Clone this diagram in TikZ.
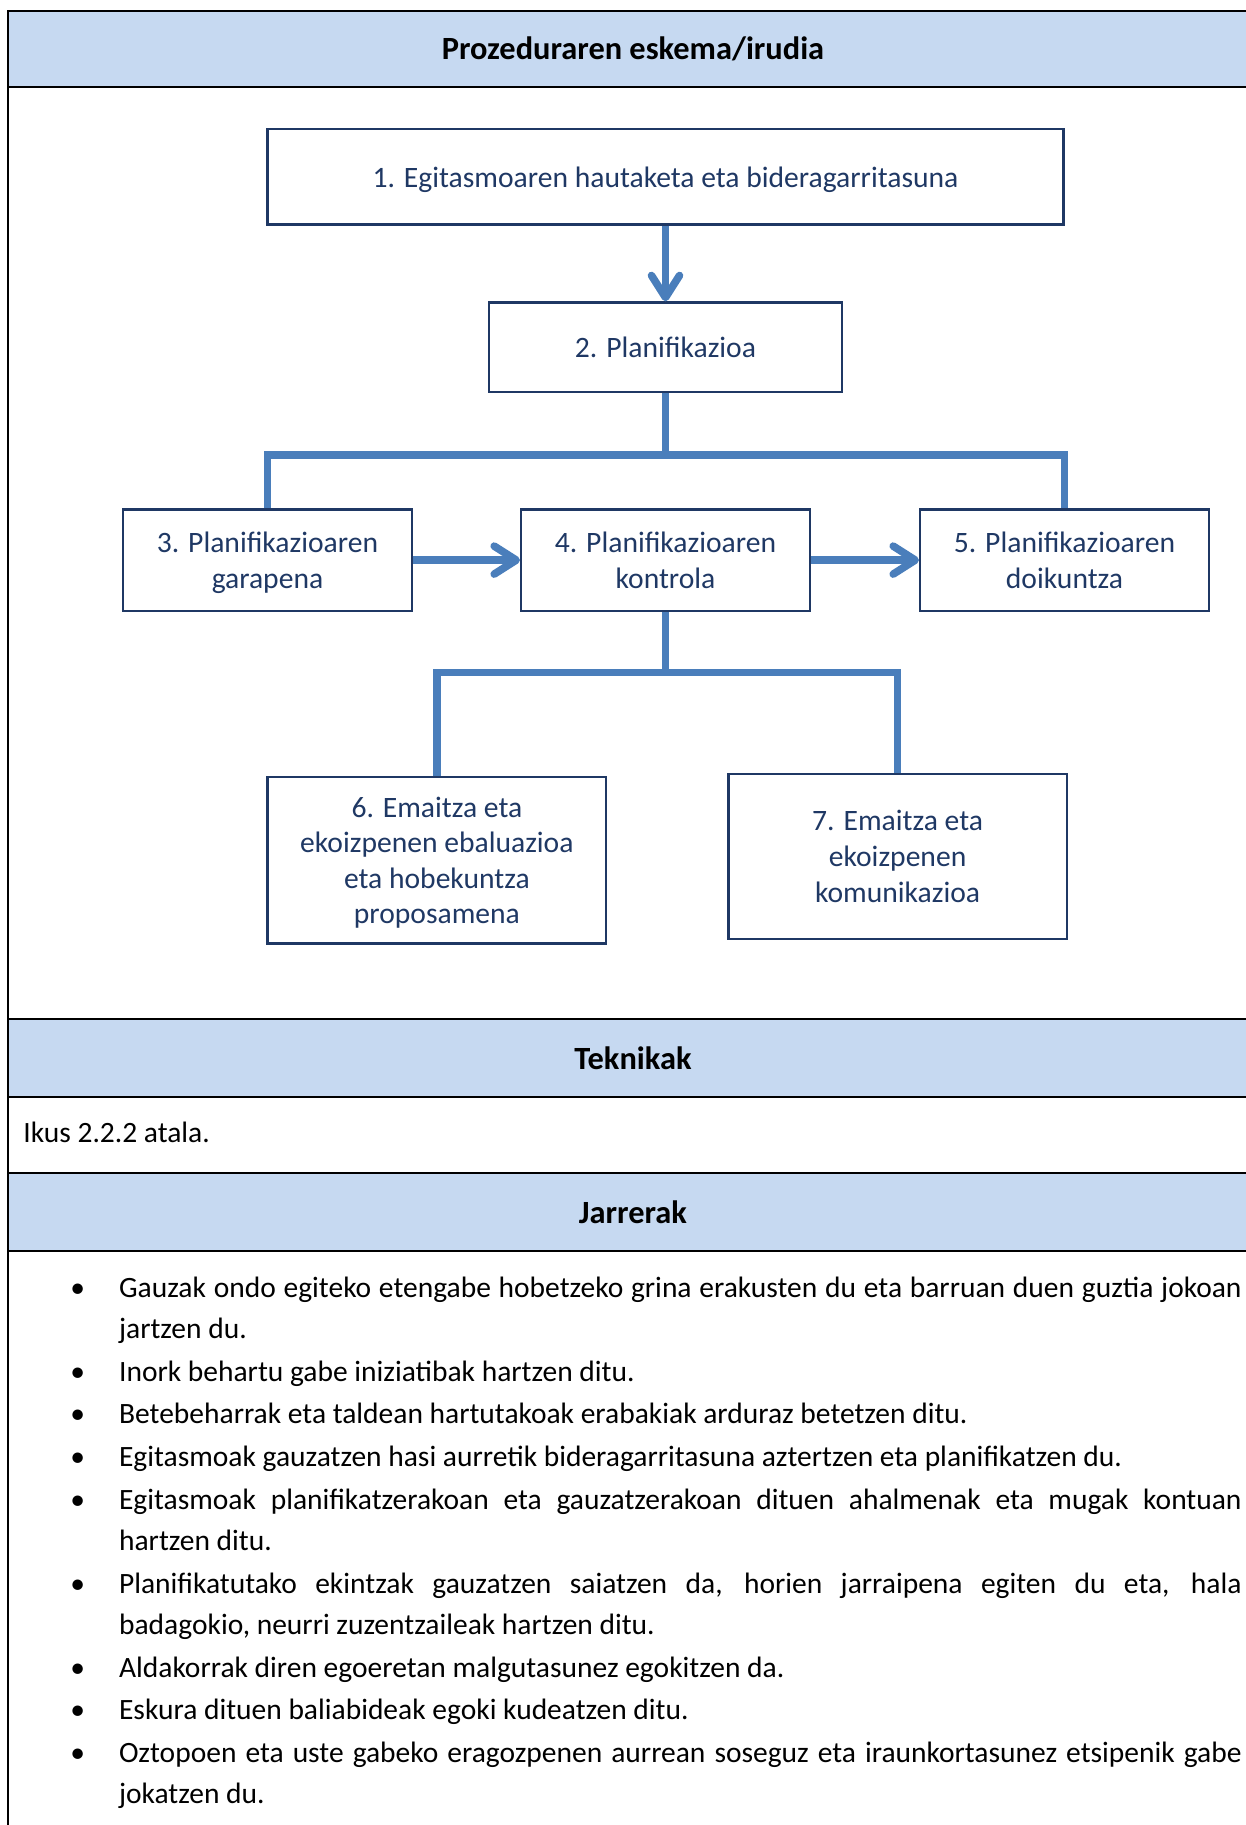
\documentclass[tikz,border=0pt]{standalone}
\usepackage{fontspec}
\setmainfont{Carlito}
\usepackage{tikz}
\usetikzlibrary{arrows.meta,positioning,calc}
\definecolor{bandblue}{HTML}{C6D9F1}
\definecolor{stagenavy}{HTML}{1F3864}
\definecolor{linkblue}{HTML}{4A7EBB}
\newcommand{\attitem}{\noindent\llap{\textbullet\hspace{17pt}}}

\begin{document}
\begin{tikzpicture}[
  x=0.5pt, y=-0.5pt,
  font=\fontsize{14.75}{20.5}\selectfont,
  stage/.style={
    rectangle,
    draw=stagenavy,
    line width=1.2pt,
    text=stagenavy,
    align=center,
    inner sep=0pt,
    text depth=0pt,
    minimum width=144.3pt,
    minimum height=50.6pt,
    font=\fontsize{14.8}{17.8}\selectfont
  },
  bandtitle/.style={font=\fontsize{16.2}{19}\selectfont\bfseries, inner sep=0pt},
  tablerule/.style={line width=1.1pt, draw=black, line join=miter},
  link/.style={line width=3.8pt, draw=linkblue},
  arrow/.style={link, -{Straight Barb[length=11pt,width=14pt,round]}}
]
\useasboundingbox (0,0) rectangle (1246,1825);

% table bands and rules
\fill[bandblue] (8,11) rectangle (1246,87);
\fill[bandblue] (8,1019) rectangle (1246,1097);
\fill[bandblue] (8,1173) rectangle (1246,1251);
\draw[tablerule] (1246,11) -- (8,11) -- (8,1825);
\foreach \ry in {87,1019,1097,1173,1251}
  \draw[tablerule] (8,\ry) -- (1246,\ry);

\node[bandtitle] (scheme) at (633,49) {Prozeduraren eskema/irudia};
\node[bandtitle] (techniques) at (633,1058) {Teknikak};
\node[bandtitle] (attitudes) at (633,1212) {Jarrerak};

% procedure scheme
\node[stage, minimum width=397.9pt, minimum height=47.7pt] (b1) at (665.5,176.8)
  {1. Egitasmoaren hautaketa eta bideragarritasuna};
\node[stage, minimum width=176.3pt, minimum height=44.8pt, below=37.8pt of b1] (b2)
  {2. Planifikazioa};
\node[stage, below=57.5pt of b2] (b4) {4. Planifikazioaren\\kontrola};
\node[stage, left=53.5pt of b4] (b3) {3. Planifikazioaren\\garapena};
\node[stage, right=54pt of b4] (b5) {5. Planifikazioaren\\doikuntza};
\node[stage, minimum width=169.3pt, minimum height=83.2pt] (b6) at (436.9,860.4)
  {6. Emaitza eta\\ekoizpenen ebaluazioa\\eta hobekuntza\\proposamena};
\node[stage, minimum width=169.3pt, minimum height=82.6pt] (b7) at (897.6,856.3)
  {7. Emaitza eta\\ekoizpenen\\komunikazioa};

\coordinate[below=30.8pt of b2.south] (fork1);
\coordinate[below=30.2pt of b4.south] (fork2);

\draw[arrow] (b1) -- (b2);
\draw[link] (b2.south) -- (fork1);
\draw[link] (b3.north) |- (fork1) -| (b5.north);
\draw[arrow] (b3) -- (b4);
\draw[arrow] (b4) -- (b5);
\draw[link] (b4.south) -- (fork2);
\draw[link] (b6.north) |- (fork2) -| (b7.north);

% text rows
\node[anchor=west, inner sep=0pt] (seesection) at (23,1132) {Ikus 2.2.2 atala.};

\node[anchor=north west, inner sep=0pt, text width=561.2pt, align=justify] (attlist) at (118.7,1276.5) {%
  \hyphenpenalty=10000 \exhyphenpenalty=10000 \setlength{\parskip}{0.9pt}%
  \attitem Gauzak ondo egiteko etengabe hobetzeko grina erakusten du eta barruan duen guztia jokoan\linebreak jartzen du.\par
  \attitem Inork behartu gabe iniziatibak hartzen ditu.\par
  \attitem Betebeharrak eta taldean hartutakoak erabakiak arduraz betetzen ditu.\par
  \attitem Egitasmoak gauzatzen hasi aurretik bideragarritasuna aztertzen eta planifikatzen du.\par
  \attitem Egitasmoak planifikatzerakoan eta gauzatzerakoan dituen ahalmenak eta mugak kontuan\linebreak hartzen ditu.\par
  \attitem Planifikatutako ekintzak gauzatzen saiatzen da, horien jarraipena egiten du eta, hala\linebreak badagokio, neurri zuzentzaileak hartzen ditu.\par
  \attitem Aldakorrak diren egoeretan malgutasunez egokitzen da.\par
  \attitem Eskura dituen baliabideak egoki kudeatzen ditu.\par
  \attitem Oztopoen eta uste gabeko eragozpenen aurrean soseguz eta iraunkortasunez etsipenik gabe\linebreak jokatzen du.};

\end{tikzpicture}
\end{document}
